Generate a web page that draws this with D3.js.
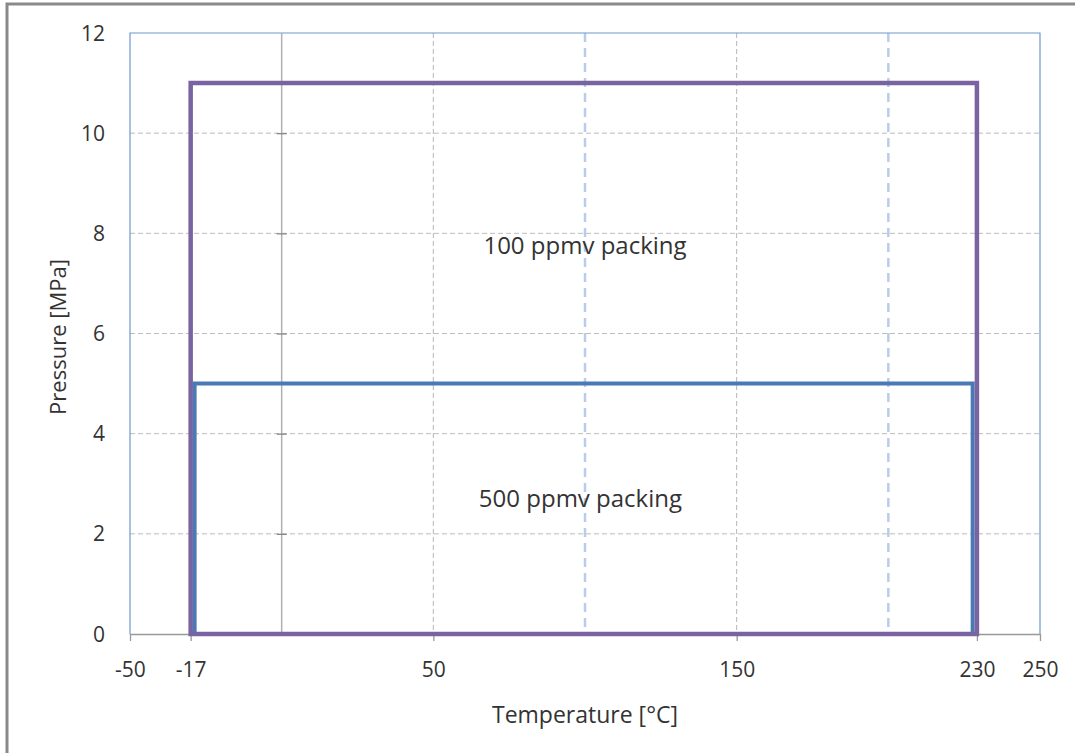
<!DOCTYPE html>
<html><head><meta charset="utf-8">
<script src="https://cdn.jsdelivr.net/npm/d3@7"></script>
<style>body{margin:0;background:#fff}svg{display:block}text{font-family:"Open Sans","Noto Sans",sans-serif;fill:#333}</style>
</head><body><svg id="c" width="1075" height="753"></svg>
<script>
// data
const xTickValues = [-50, -30, 50, 150, 229.2, 250];
const xTickLabels = ["-50", "-17", "50", "150", "230", "250"];
const yTickValues = [0, 2, 4, 6, 8, 10, 12];
const grayGridX = [50, 150];
const blueGridX = [100, 200];
const gridY = [2, 4, 6, 8, 10];
const region100 = {label: "100 ppmv packing", tMin: -30, tMax: 229.2, pMax: 11};
const region500 = {label: "500 ppmv packing", tMin: -28.7, tMax: 227.8, pMax: 5};
const labelPos100 = {t: 100, p: 7.75};
const labelPos500 = {t: 98.5, p: 2.7};

const svg = d3.select("#c");
const L = 130, R = 1040, T = 33, B = 634;
const x = d3.scaleLinear().domain([-50, 250]).range([L, R]);
const y = d3.scaleLinear().domain([0, 12]).range([B, T]);

// outer frame
svg.append("path").attr("d", `M7,800 L7,4 L1100,4`).attr("fill","none").attr("stroke","#8a8a8a").attr("stroke-width",3);

// gridlines
svg.append("g").selectAll("line").data(gridY).join("line")
  .attr("x1", L).attr("x2", R).attr("y1", d=>y(d)).attr("y2", d=>y(d))
  .attr("stroke","#bdbdbd").attr("stroke-width",1).attr("stroke-dasharray","5,3");
svg.append("g").selectAll("line").data(grayGridX).join("line")
  .attr("x1", d=>x(d)).attr("x2", d=>x(d)).attr("y1", T).attr("y2", B)
  .attr("stroke","#b5b5b5").attr("stroke-width",1).attr("stroke-dasharray","5,3");
svg.append("g").selectAll("line").data(blueGridX).join("line")
  .attr("x1", d=>x(d)).attr("x2", d=>x(d)).attr("y1", T).attr("y2", B)
  .attr("stroke","#b9cde9").attr("stroke-width",2.5).attr("stroke-dasharray","9,6");

// plot frame (blue)
svg.append("path").attr("d", `M${L},${B} L${L},${T} L${R},${T} L${R},${B}`)
  .attr("fill","none").attr("stroke","#6f98cc").attr("stroke-width",1.2);

// y axis at x=0
svg.append("line").attr("x1", x(0)).attr("x2", x(0)).attr("y1", T).attr("y2", B)
  .attr("stroke","#b0b0b0").attr("stroke-width",1.5);
const yAxis = d3.axisLeft(y).tickValues(yTickValues.slice(1,6)).tickSize(5).tickSizeOuter(0).tickFormat("");
const gy = svg.append("g").attr("transform", `translate(${x(0)},0)`).call(yAxis);
gy.select(".domain").remove();
gy.selectAll(".tick line").attr("stroke","#888").attr("x2",5).attr("x1",-5).attr("stroke-width",1.3);

// y tick labels (left)
svg.append("g").selectAll("text").data(yTickValues).join("text")
  .attr("x", 105).attr("y", d=>y(d)).attr("dy","0.36em").attr("text-anchor","end")
  .style("font-size","21px").text(d=>d);

// x axis at y=0
const xAxis = d3.axisBottom(x).tickValues(xTickValues).tickSize(7).tickSizeOuter(0)
  .tickFormat((d,i)=>xTickLabels[i]);
const gx = svg.append("g").attr("transform", `translate(0,${y(0)})`).call(xAxis);
gx.attr("font-size", null).attr("font-family", null);
gx.select(".domain").attr("stroke","#999").attr("stroke-width",1.3);
gx.selectAll(".tick line").attr("stroke","#999").attr("stroke-width",1.3);
gx.selectAll(".tick text").style("font-size","21px").attr("y",35).attr("dy","0.36em")
  .style("font-family",'"Open Sans","Noto Sans",sans-serif').attr("fill","#333");

// regions
function rectPath(r){ return `M${x(r.tMin)},${y(0)} L${x(r.tMin)},${y(r.pMax)} L${x(r.tMax)},${y(r.pMax)} L${x(r.tMax)},${y(0)} Z`; }
svg.append("path").attr("d", rectPath(region500)).attr("fill","none")
  .attr("stroke","#4a7ab6").attr("stroke-width",4).attr("stroke-linejoin","miter");
svg.append("path").attr("d", rectPath(region100)).attr("fill","none")
  .attr("stroke","#7a63a1").attr("stroke-width",4.5).attr("stroke-linejoin","miter");

// region labels
svg.append("text").attr("x", x(labelPos100.t)).attr("y", y(labelPos100.p)).attr("text-anchor","middle")
  .attr("dy","0.36em").style("font-size","24px").text(region100.label);
svg.append("text").attr("x", x(labelPos500.t)).attr("y", y(labelPos500.p)).attr("text-anchor","middle")
  .attr("dy","0.36em").style("font-size","24px").text(region500.label);

// axis titles
svg.append("text").attr("x", 585).attr("y", 715).attr("dy","0.36em").attr("text-anchor","middle")
  .style("font-size","23px").text("Temperature [°C]");
svg.append("text").attr("transform","translate(58,337) rotate(-90)").attr("dy","0.36em").attr("text-anchor","middle")
  .style("font-size","22px").text("Pressure [MPa]");
</script></body></html>
